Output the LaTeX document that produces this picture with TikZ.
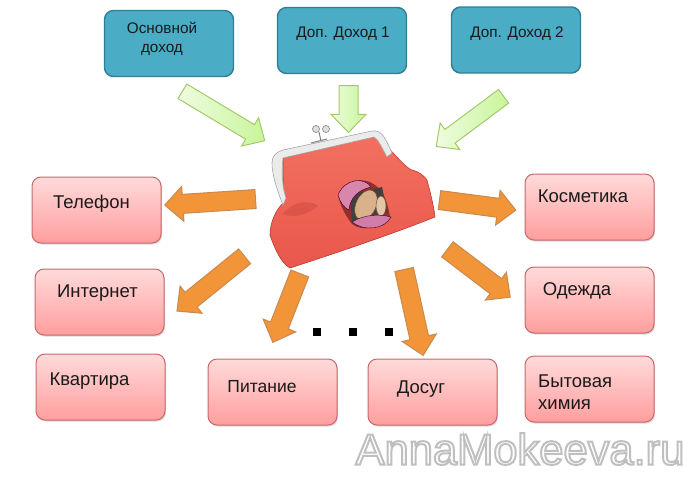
\documentclass[tikz,border=0pt]{standalone}
\usepackage{fontspec}
\setmainfont{Liberation Sans}
\usetikzlibrary{shapes.arrows,shadows}
\definecolor{boxblue}{HTML}{4BACC6}
\definecolor{edgeblue}{HTML}{2F7F96}
\definecolor{pinktop}{HTML}{FFDADA}
\definecolor{pinkbot}{HTML}{FF9E9E}
\definecolor{edgepink}{HTML}{C9686B}
\definecolor{greenfill}{HTML}{C8F59A}
\definecolor{edgegreen}{HTML}{A5C96A}
\definecolor{orangefill}{HTML}{F29438}
\definecolor{edgeorange}{HTML}{C98A50}
\definecolor{pursetop}{HTML}{F2705F}
\definecolor{pursebot}{HTML}{E9574C}
\definecolor{pursedark}{HTML}{B93A32}
\tikzset{
  blockbox/.style={rectangle,rounded corners=9pt,minimum width=129pt,minimum height=66pt,inner sep=0pt},
  incomebox/.style={blockbox,draw=edgeblue,line width=1.4pt,fill=boxblue},
  costbox/.style={blockbox,draw=edgepink,line width=1pt,top color=pinktop,bottom color=pinkbot,
                  drop shadow={shadow xshift=1pt,shadow yshift=-1.5pt,opacity=.3}},
  incometext/.style={font=\fontsize{15.3}{19}\selectfont,inner sep=0pt,align=left,text=black!90},
  costtext/.style={font=\fontsize{18.5}{22}\selectfont,inner sep=0pt,align=left,text=black!90},
  blockarrow/.style={single arrow,anchor=tail,inner xsep=0pt,single arrow tip angle=88},
  inarrow/.style={blockarrow,draw=edgegreen,line width=1pt,left color=white!70!greenfill,right color=greenfill,
                  inner ysep=9pt,single arrow head extend=8pt},
  outarrow/.style={blockarrow,draw=edgeorange,line width=1pt,fill=orangefill,
                   inner ysep=9pt,single arrow head extend=8pt},
  bigdot/.style={fill=black,inner sep=0pt,minimum size=8.5pt},
  markfont/.style={font=\fontsize{43.5}{44}\selectfont,inner sep=0pt,text=white}
}
\begin{document}
\begin{tikzpicture}[x=1pt,y=-1pt]
  \useasboundingbox (0,0) rectangle (699,477);

  % income
  \node[incomebox] (main) at (169,43.5) {};
  \node[incomebox] (extra1) at (342,40.5) {};
  \node[incomebox] (extra2) at (516,40) {};
  \node[incometext,align=center] (maintext) at (162,39) {Основной\\доход};
  \node[incometext] (extra1text) at (343,34) {Доп. Доход 1};
  \node[incometext] (extra2text) at (517,34) {Доп. Доход 2};

  % costs
  \node[costbox] (phone) at (96.5,210) {};
  \node[costbox] (net) at (99.5,302) {};
  \node[costbox] (flat) at (100.5,387) {};
  \node[costbox] (food) at (272.5,392) {};
  \node[costbox] (leisure) at (432.5,392) {};
  \node[costbox] (chem) at (589.5,389) {};
  \node[costbox] (cosmetics) at (589.5,207) {};
  \node[costbox] (clothes) at (589.5,300) {};
  \node[costtext] (phonetext) at (91.5,204) {Телефон};
  \node[costtext] (nettext) at (97.5,293) {Интернет};
  \node[costtext] (flattext) at (89.5,381) {Квартира};
  \node[costtext,font=\fontsize{17.5}{22}\selectfont] (foodtext) at (262,387) {Питание};
  \node[costtext] (leisuretext) at (421,389) {Досуг};
  \node[costtext,anchor=west] (chemtext) at (538,392) {Бытовая\\химия};
  \node[costtext] (cosmeticstext) at (583,196) {Косметика};
  \node[costtext] (clothestext) at (577,291) {Одежда};

  % purse
  \path[top color=pursetop,bottom color=pursebot,draw=pursedark,line width=.6pt]
    (283,158) -- (376,136) .. controls (392,150) and (405,168) .. (412,170)
    .. controls (420,172) and (424,176) .. (427,180)
    .. controls (431,195) and (434,208) .. (435,217)
    .. controls (390,235) and (330,255) .. (290,268)
    .. controls (282,264) and (275,250) .. (270,235)
    .. controls (270,222) and (276,210) .. (283,203) -- cycle;
  \path[fill=pursedark,opacity=.3] (282,214) .. controls (295,200) and (310,200) .. (318,206)
    .. controls (305,216) and (295,218) .. (282,214) -- cycle;
  \path[draw=black!35,fill=black!8,line width=.6pt]
    (283,205) .. controls (277,190) and (272,175) .. (272,163)
    .. controls (272,156) and (276,152) .. (283,150) -- (372,131)
    .. controls (380,130) and (384,134) .. (392,153) -- (387,157)
    .. controls (381,146) and (378,139) .. (374,137) -- (283,158)
    .. controls (281,175) and (283,190) .. (286,198) -- cycle;
  % clasp
  \path[draw=black!45,line width=1.2pt] (311,143) -- (327,139);
  \path[draw=black!45,fill=black!12,line width=.7pt] (316,129) circle (3.5pt) (326,129) circle (3.5pt);
  \path[draw=black!50,line width=1pt] (319,132) -- (321,141);
  % hole
  \path[fill=pursedark!80!black] (338,195) .. controls (345,178) and (365,177) .. (375,185)
    .. controls (385,192) and (388,205) .. (390,217)
    .. controls (380,228) and (362,232) .. (352,224)
    .. controls (345,215) and (340,205) .. (338,195) -- cycle;
  \path[fill=black!75] (350,195) -- (382,187) -- (387,212) -- (352,222) -- cycle;
  \path[fill=brown!60!white,draw=brown!60!black,line width=.5pt,rotate around={-25:(366,205)}]
    (366,205) ellipse (10pt and 16pt);
  \path[fill=brown!45!white,draw=brown!60!black,line width=.5pt]
    (381,206) ellipse (5pt and 10pt);
  \path[fill=violet!30!pink,draw=violet!40!black,line width=.4pt]
    (338,195) .. controls (345,178) and (365,177) .. (371,187)
    .. controls (358,190) and (350,198) .. (349,210)
    .. controls (344,208) and (340,202) .. (338,195) -- cycle;
  \path[fill=violet!35!pink,draw=violet!40!black,line width=.4pt]
    (352,222) .. controls (365,214) and (380,214) .. (391,217)
    .. controls (385,229) and (365,232) .. (352,222) -- cycle;

  % incoming
  \node[inarrow,minimum height=96pt,rotate=-31,inner ysep=8pt] (in1) at (182,91) {};
  \node[inarrow,minimum height=47pt,rotate=-90] (in2) at (348.5,85) {};
  \node[inarrow,minimum height=84pt,rotate=216.7,inner ysep=8pt] (in3) at (504,96) {};

  % outgoing
  \node[outarrow,minimum height=91pt,rotate=183.8] (out1) at (256,199) {};
  \node[outarrow,minimum height=87pt,rotate=219] (out2) at (245,256) {};
  \node[outarrow,minimum height=74pt,rotate=248.6] (out3) at (300,273) {};
  \node[outarrow,minimum height=88pt,rotate=-77.5] (out4) at (404,269) {};
  \node[outarrow,minimum height=77pt,rotate=-7.5] (out5) at (439,200) {};
  \node[outarrow,minimum height=79pt,rotate=-37.3] (out6) at (447,249) {};

  \node[bigdot] (dot1) at (317,332) {};
  \node[bigdot] (dot2) at (353,332) {};
  \node[bigdot] (dot3) at (389,332) {};

  % watermark
  \node[markfont] (mark) at (520,449)
    {\special{pdf:code 2 Tr 2 w 0.75 G}AnnaMokeeva.ru\special{pdf:code 0 Tr}};
\end{tikzpicture}
\end{document}
